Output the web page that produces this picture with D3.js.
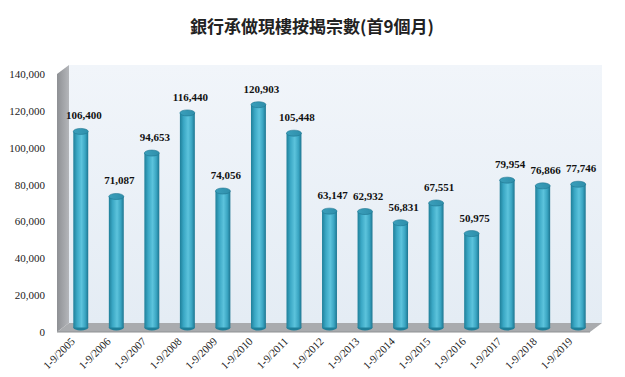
<!DOCTYPE html>
<html><head><meta charset="utf-8">
<script src="https://cdn.jsdelivr.net/npm/d3@7"></script>
<style>body{margin:0;background:#fff}svg{display:block}</style>
</head><body>
<script>
const categories = ["1-9/2005","1-9/2006","1-9/2007","1-9/2008","1-9/2009","1-9/2010","1-9/2011","1-9/2012","1-9/2013","1-9/2014","1-9/2015","1-9/2016","1-9/2017","1-9/2018","1-9/2019"];
const values = [106400,71087,94653,116440,74056,120903,105448,63147,62932,56831,67551,50975,79954,76866,77746];
const yTicks = [0,20000,40000,60000,80000,100000,120000,140000];
const title = "銀行承做現樓按揭宗數(首9個月)";

const W = 625, H = 377;
const svg = d3.select("body").append("svg").attr("width", W).attr("height", H);
const defs = svg.append("defs");

// geometry
const fx0 = 57, fx1 = 590, fy0 = 332; // front plane
const dx = 12, dy = -9;               // depth vector
const plotH = 258;
const y = d3.scaleLinear().domain([0, 140000]).range([plotH, 0]);
const x = d3.scaleBand().domain(categories).range([fx0 + dx/2, fx1 + dx/2]).paddingInner(0.58).paddingOuter(0.29);

// gradients
const wallG = defs.append("linearGradient").attr("id","wall").attr("x1",0).attr("y1",0).attr("x2",0).attr("y2",1);
wallG.append("stop").attr("offset","0%").attr("stop-color","#f1f5fa");
wallG.append("stop").attr("offset","100%").attr("stop-color","#e4ecf4");
const sideG = defs.append("linearGradient").attr("id","side").attr("x1",0).attr("y1",0).attr("x2",1).attr("y2",0);
sideG.append("stop").attr("offset","0%").attr("stop-color","#8e9094");
sideG.append("stop").attr("offset","100%").attr("stop-color","#b4b6ba");
const barG = defs.append("linearGradient").attr("id","bar").attr("x1",0).attr("y1",0).attr("x2",1).attr("y2",0);
[["0%","#1f7f99"],["25%","#3aa7c4"],["55%","#5cc3dc"],["80%","#3aa5c2"],["100%","#1d7590"]].forEach(s=>barG.append("stop").attr("offset",s[0]).attr("stop-color",s[1]));
const topG = defs.append("linearGradient").attr("id","btop").attr("x1",0).attr("y1",0).attr("x2",1).attr("y2",0);
topG.append("stop").attr("offset","0%").attr("stop-color","#3a9fbb");
topG.append("stop").attr("offset","100%").attr("stop-color","#2f8fab");

// back wall
const bx0 = fx0 + dx, bx1 = fx1 + dx, by0 = fy0 + dy;
svg.append("rect").attr("x", bx0).attr("y", by0 - plotH).attr("width", bx1 - bx0).attr("height", plotH).attr("fill","url(#wall)");
// side wall
svg.append("path").attr("d", `M${fx0},${fy0 - plotH} L${bx0},${by0 - plotH} L${bx0},${by0} L${fx0},${fy0} Z`).attr("fill","url(#side)");
// floor
svg.append("path").attr("d", `M${fx0},${fy0} L${bx0},${by0} L${bx1},${by0} L${fx1},${fy0} Z`).attr("fill","#a9abae");
svg.append("line").attr("x1",fx0).attr("x2",fx1).attr("y1",fy0).attr("y2",fy0).attr("stroke","#8f9194").attr("stroke-width",1);

// bars (cylinders, mid-depth)
const base = fy0 + dy/2; // mid-depth baseline
const bw = x.bandwidth();
const ry = 3;
const g = svg.append("g");
categories.forEach((c, i) => {
  const cx = x(c) + bw/2;
  const top = base - (plotH - y(values[i]));
  g.append("ellipse").attr("cx", cx).attr("cy", base).attr("rx", bw/2).attr("ry", ry).attr("fill","#1f7f99");
  g.append("rect").attr("x", cx - bw/2).attr("y", top).attr("width", bw).attr("height", base - top).attr("fill","url(#bar)");
  g.append("ellipse").attr("cx", cx).attr("cy", top).attr("rx", bw/2).attr("ry", ry).attr("fill","url(#btop)").attr("stroke","#1e7590").attr("stroke-width",0.6);
  g.append("text").attr("x", cx + 3).attr("y", top - 12).attr("text-anchor","middle")
    .attr("font-family","'Liberation Serif','Times New Roman',serif").attr("font-weight","bold").attr("font-size",11).attr("fill","#111")
    .text(d3.format(",")(values[i]));
  g.append("text").attr("transform", `translate(${cx - 5},${fy0 + 10}) rotate(-45)`).attr("text-anchor","end")
    .attr("font-family","'Liberation Serif','Times New Roman',serif").attr("font-size",11).attr("fill","#222")
    .text(c);
});

// y axis labels (front plane)
const ya = svg.append("g").attr("transform", `translate(45,${fy0 - plotH})`)
  .call(d3.axisLeft(y).tickValues(yTicks).tickFormat(d3.format(",")).tickSize(0).tickPadding(0));
ya.select(".domain").remove();
ya.selectAll("text").attr("font-family","'Liberation Serif','Times New Roman',serif").attr("font-size",11).attr("fill","#222");

// title
svg.append("text").attr("x", 312).attr("y", 33).attr("text-anchor","middle")
  .attr("font-family","'Noto Sans CJK TC','Noto Sans CJK SC',sans-serif").attr("font-weight","bold").attr("font-size",17).attr("fill","#222")
  .text(title);
</script>
</body></html>
